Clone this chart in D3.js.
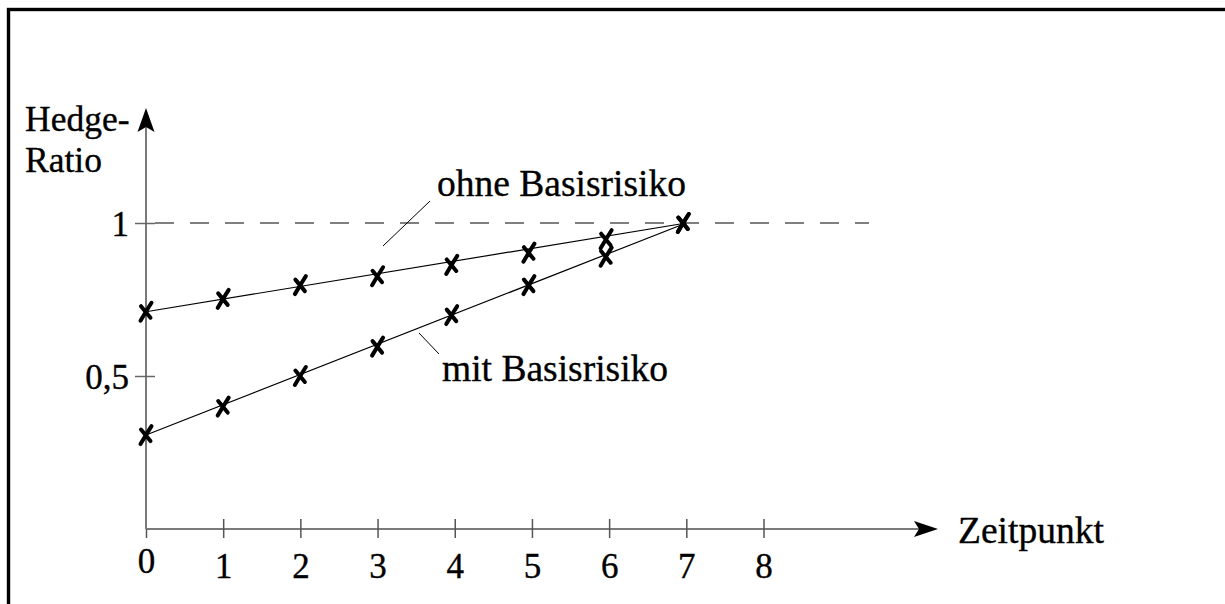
<!DOCTYPE html>
<html>
<head>
<meta charset="utf-8">
<script src="https://cdn.jsdelivr.net/npm/d3@7"></script>
<style>
  body { margin: 0; background: #fff; }
  svg { display: block; }
  text { font-family: "Liberation Serif", "Times New Roman", serif; fill: #000; stroke: #000; stroke-width: 0.35; }
</style>
</head>
<body>
<div id="graph"></div>
<script>
// time points and hedge ratios
const zeitpunkte = [0, 1, 2, 3, 4, 5, 6, 7];
const ohneBasisrisiko = [0.71, 0.752, 0.797, 0.826, 0.863, 0.903, 0.947, 1.0];
const mitBasisrisiko = [0.307, 0.4, 0.5, 0.596, 0.699, 0.797, 0.89, 1.0];
const xTicks = [0, 1, 2, 3, 4, 5, 6, 7, 8];
const yTicks = [0.5, 1];
const yTickLabels = ["0,5", "1"];

const w = 1225;
const h = 604;

const svg = d3.select("#graph")
  .append("svg")
  .attr("width", w)
  .attr("height", h);

// frame (only top and left are inside the window)
svg.append("rect")
  .attr("x", 8.5)
  .attr("y", 9.5)
  .attr("width", 1300)
  .attr("height", 700)
  .attr("fill", "none")
  .attr("stroke", "#000")
  .attr("stroke-width", 3.4);

const x = d3.scaleLinear().domain([0, 8]).range([146, 763.5]);
const y = d3.scaleLinear().domain([0, 1]).range([529, 223]);

const axisColor = "#7a7a7a";

// dashed reference line at 1
svg.append("line")
  .attr("x1", 155)
  .attr("x2", 869)
  .attr("y1", y(1))
  .attr("y2", y(1))
  .attr("stroke", "#000")
  .attr("stroke-width", 1.2)
  .attr("stroke-dasharray", "19 16");

// axes lines with arrows
svg.append("line")
  .attr("x1", x(0)).attr("x2", x(0))
  .attr("y1", y(0)).attr("y2", 126)
  .attr("stroke", axisColor)
  .attr("stroke-width", 2);

svg.append("line")
  .attr("x1", x(0)).attr("x2", 920)
  .attr("y1", y(0)).attr("y2", y(0))
  .attr("stroke", axisColor)
  .attr("stroke-width", 2);

svg.append("path")
  .attr("d", `M${x(0)},108 L${x(0) + 8.5},132 L${x(0)},127 L${x(0) - 8.5},132 Z`)
  .attr("fill", "#000");

svg.append("path")
  .attr("d", `M938,${y(0)} L914,${y(0) - 8} L919,${y(0)} L914,${y(0) + 8} Z`)
  .attr("fill", "#000");

// x axis ticks and labels
const xAxis = svg.append("g")
  .attr("transform", `translate(0,${y(0)})`)
  .call(d3.axisBottom(x).tickValues(xTicks).tickSize(9).tickPadding(0).tickFormat(d3.format("d")));
xAxis.select(".domain").remove();
xAxis.selectAll(".tick line")
  .attr("y1", d => d === 0 ? 0 : -10)
  .attr("stroke", "#555")
  .attr("stroke-width", 1.5);
xAxis.selectAll(".tick text")
  .attr("y", d => d === 0 ? 44 : 49)
  .attr("dy", null)
  .attr("font-size", 35)
  .attr("font-family", "Liberation Serif")
  .attr("fill", "#000");

// y axis ticks and labels
const yAxis = svg.append("g")
  .attr("transform", `translate(${x(0)},0)`)
  .call(d3.axisLeft(y).tickValues(yTicks).tickSize(11).tickPadding(0)
    .tickFormat((d, i) => yTickLabels[i]));
yAxis.select(".domain").remove();
yAxis.selectAll(".tick line")
  .attr("x2", 9)
  .attr("x1", -11)
  .attr("stroke", "#666")
  .attr("stroke-width", 1.5);
yAxis.selectAll(".tick text")
  .attr("x", -17)
  .attr("dy", "0.36em")
  .attr("font-size", 35)
  .attr("font-family", "Liberation Serif")
  .attr("fill", "#000");

// straight lines through first and last point
const series = [ohneBasisrisiko, mitBasisrisiko];
const n = zeitpunkte.length - 1;
svg.selectAll("line.trend")
  .data(series)
  .join("line")
  .attr("class", "trend")
  .attr("x1", x(zeitpunkte[0]))
  .attr("y1", d => y(d[0]))
  .attr("x2", x(zeitpunkte[n]))
  .attr("y2", d => y(d[n]))
  .attr("stroke", "#000")
  .attr("stroke-width", 1.2);

// cross markers
const cross = "M5.5,-9 Q1,-2 -5.5,9 M-5,-5.5 L4.5,6";
const points = [];
series.forEach(s => s.forEach((v, i) => points.push([zeitpunkte[i], v])));
svg.selectAll("path.mark")
  .data(points)
  .join("path")
  .attr("class", "mark")
  .attr("d", cross)
  .attr("transform", d => `translate(${x(d[0]) - (d[0] > 3 ? 3 : 0)},${y(d[1])})`)
  .attr("fill", "none")
  .attr("stroke", "#000")
  .attr("stroke-width", 4)
  .attr("stroke-linecap", "round");

// annotations
svg.append("line")
  .attr("x1", 383).attr("y1", 246)
  .attr("x2", 430).attr("y2", 201)
  .attr("stroke", "#000").attr("stroke-width", 1);

svg.append("line")
  .attr("x1", 419).attr("y1", 333)
  .attr("x2", 439).attr("y2", 354)
  .attr("stroke", "#000").attr("stroke-width", 1);

svg.append("text").attr("x", 437).attr("y", 196).attr("font-size", 37.5).text("ohne Basisrisiko");
svg.append("text").attr("x", 442).attr("y", 381).attr("font-size", 37.5).text("mit Basisrisiko");
svg.append("text").attr("x", 958).attr("y", 543).attr("font-size", 37.5).text("Zeitpunkt");
svg.append("text").attr("x", 25).attr("y", 131).attr("font-size", 35.5).text("Hedge-");
svg.append("text").attr("x", 25).attr("y", 172).attr("font-size", 35.5).text("Ratio");
</script>
</body>
</html>
